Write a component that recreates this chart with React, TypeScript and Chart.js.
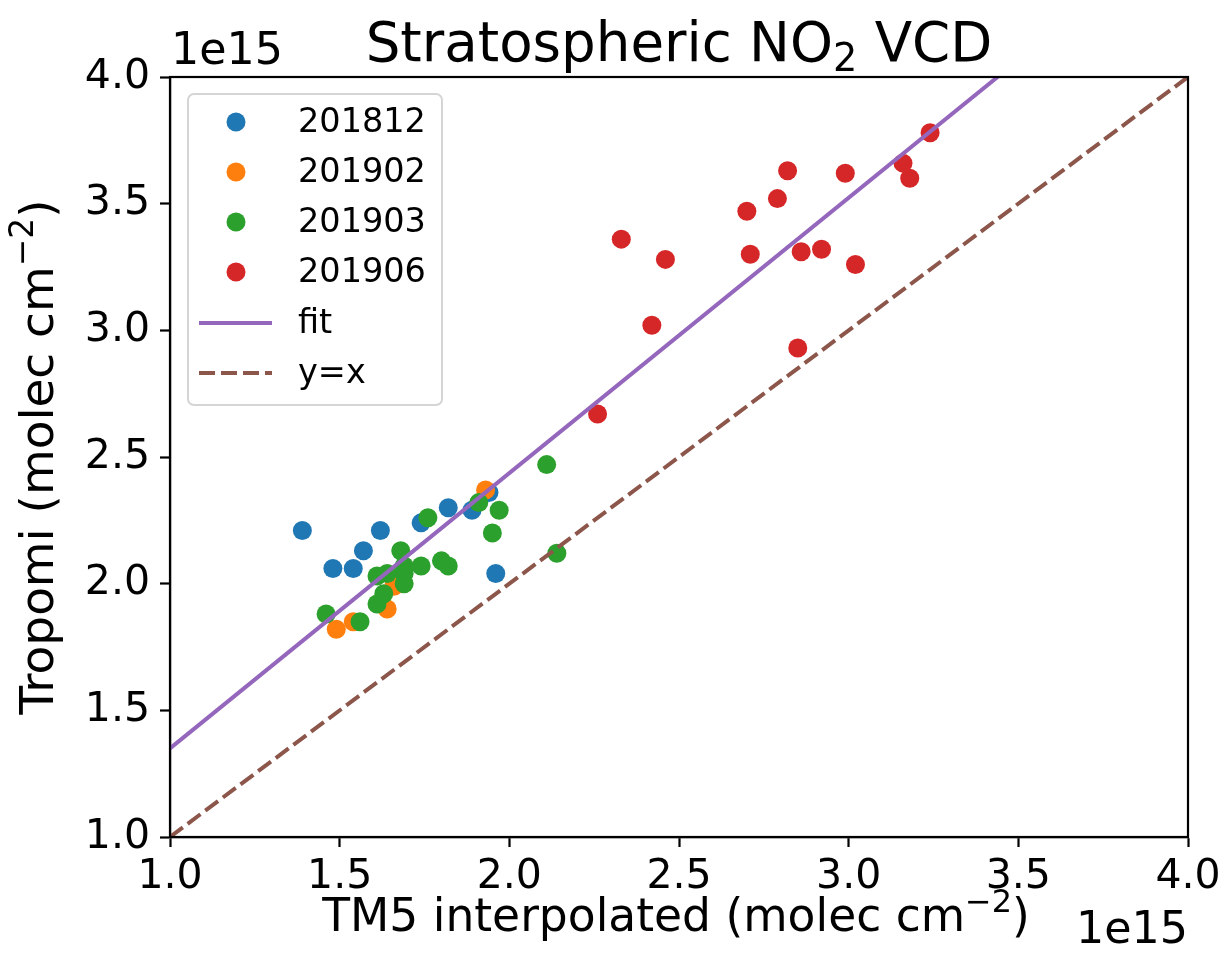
import { useEffect, useRef } from "react";
import { Chart, registerables } from "chart.js";

Chart.register(...registerables);

const W = 1229;
const H = 962;
const FONT = "'DejaVu Sans', sans-serif";

// Values in units of 1e15 molec cm^-2
const seriesLabels = ["201812", "201902", "201903", "201906"];
const seriesColors = ["#1f77b4", "#ff7f0e", "#2ca02c", "#d62728"];

const x201812 = [1.39, 1.48, 1.54, 1.57, 1.62, 1.74, 1.82, 1.89, 1.94, 1.96];
const y201812 = [2.21, 2.06, 2.06, 2.13, 2.21, 2.24, 2.30, 2.29, 2.36, 2.04];

const x201902 = [1.93, 1.49, 1.54, 1.64, 1.66];
const y201902 = [2.37, 1.82, 1.85, 1.90, 1.99];

const x201903 = [1.46, 1.56, 1.61, 1.61, 1.63, 1.64, 1.68, 1.69, 1.69, 1.74, 1.76, 1.80, 1.82, 1.91, 1.97, 1.95, 2.14, 2.11, 1.69];
const y201903 = [1.88, 1.85, 1.92, 2.03, 1.96, 2.04, 2.13, 2.07, 2.00, 2.07, 2.26, 2.09, 2.07, 2.32, 2.29, 2.20, 2.12, 2.47, 2.04];

const x201906 = [2.26, 2.42, 2.33, 2.46, 2.70, 2.71, 2.79, 2.82, 2.86, 2.92, 2.85, 2.99, 3.02, 3.16, 3.18, 3.24];
const y201906 = [2.67, 3.02, 3.36, 3.28, 3.47, 3.30, 3.52, 3.63, 3.31, 3.32, 2.93, 3.62, 3.26, 3.66, 3.60, 3.78];

const fitX = [1.0, 4.0];
const fitY = [1.35, 4.61];
const identX = [1.0, 4.0];
const identY = [1.0, 4.0];

const tickValues = [1.0, 1.5, 2.0, 2.5, 3.0, 3.5, 4.0];

const seriesX = [x201812, x201902, x201903, x201906];
const seriesY = [y201812, y201902, y201903, y201906];

type Part = { t: string; s?: "sup" | "sub" };

function measureRich(ctx: CanvasRenderingContext2D, parts: Part[], size: number) {
  let w = 0;
  for (const p of parts) {
    const fs = p.s ? size * 0.7 : size;
    ctx.font = `${fs}px ${FONT}`;
    w += ctx.measureText(p.t).width;
  }
  return w;
}

function drawRich(
  ctx: CanvasRenderingContext2D,
  parts: Part[],
  x: number,
  y: number,
  size: number,
  align: "left" | "center" | "right"
) {
  const w = measureRich(ctx, parts, size);
  let cx = align === "center" ? x - w / 2 : align === "right" ? x - w : x;
  ctx.textAlign = "left";
  ctx.textBaseline = "alphabetic";
  for (const p of parts) {
    const fs = p.s ? size * 0.7 : size;
    ctx.font = `${fs}px ${FONT}`;
    const dy = p.s === "sup" ? -size * 0.42 : p.s === "sub" ? size * 0.18 : 0;
    ctx.fillText(p.t, cx, y + dy);
    cx += ctx.measureText(p.t).width;
  }
}

function fitSize(ctx: CanvasRenderingContext2D, parts: Part[], target: number) {
  const base = 40;
  return (base * target) / measureRich(ctx, parts, base);
}

const decorPlugin = {
  id: "decor",
  afterDatasetsDraw(chart: any) {
    const ctx: CanvasRenderingContext2D = chart.ctx;
    const a = chart.chartArea;
    ctx.save();
    ctx.strokeStyle = "#000";
    ctx.lineWidth = 2.2;
    ctx.strokeRect(a.left, a.top, a.right - a.left, a.bottom - a.top);
    ctx.restore();
  },
  afterDraw(chart: any) {
    const ctx: CanvasRenderingContext2D = chart.ctx;
    ctx.save();
    ctx.fillStyle = "#000";

    const title: Part[] = [{ t: "Stratospheric NO" }, { t: "2", s: "sub" }, { t: " VCD" }];
    drawRich(ctx, title, 679, 61, fitSize(ctx, title, 627), "center");

    const xl: Part[] = [{ t: "TM5 interpolated (molec cm" }, { t: "\u22122", s: "sup" }, { t: ")" }];
    drawRich(ctx, xl, 676, 931, fitSize(ctx, xl, 708), "center");

    const yl: Part[] = [{ t: "Tropomi (molec cm" }, { t: "\u22122", s: "sup" }, { t: ")" }];
    ctx.save();
    ctx.translate(53, 457);
    ctx.rotate(-Math.PI / 2);
    drawRich(ctx, yl, 0, 0, fitSize(ctx, yl, 515), "center");
    ctx.restore();

    const off: Part[] = [{ t: "1e15" }];
    const offSize = fitSize(ctx, off, 112);
    drawRich(ctx, off, 171, 64, offSize, "left");
    drawRich(ctx, off, 1188, 943, offSize, "right");

    // legend
    const bx = 188, by = 94, bw = 254, bh = 311, r = 6;
    ctx.beginPath();
    ctx.moveTo(bx + r, by);
    ctx.arcTo(bx + bw, by, bx + bw, by + bh, r);
    ctx.arcTo(bx + bw, by + bh, bx, by + bh, r);
    ctx.arcTo(bx, by + bh, bx, by, r);
    ctx.arcTo(bx, by, bx + bw, by, r);
    ctx.closePath();
    ctx.fillStyle = "rgba(255,255,255,0.8)";
    ctx.fill();
    ctx.strokeStyle = "#d5d5d5";
    ctx.lineWidth = 2;
    ctx.stroke();

    const rowY = [122, 172, 222, 272, 323, 373];
    for (let i = 0; i < 4; i++) {
      ctx.beginPath();
      ctx.arc(236, rowY[i], 9.5, 0, Math.PI * 2);
      ctx.fillStyle = seriesColors[i];
      ctx.fill();
    }
    ctx.lineWidth = 4;
    ctx.strokeStyle = "#9467bd";
    ctx.beginPath();
    ctx.moveTo(199, rowY[4]);
    ctx.lineTo(272, rowY[4]);
    ctx.stroke();
    ctx.strokeStyle = "#8c564b";
    ctx.setLineDash([16, 6]);
    ctx.beginPath();
    ctx.moveTo(199, rowY[5]);
    ctx.lineTo(272, rowY[5]);
    ctx.stroke();
    ctx.setLineDash([]);

    const names = [...seriesLabels, "fit", "y=x"];
    ctx.fillStyle = "#000";
    ctx.font = `33.5px ${FONT}`;
    ctx.textAlign = "left";
    ctx.textBaseline = "middle";
    for (let i = 0; i < names.length; i++) {
      ctx.fillText(names[i], 298, rowY[i] + 1);
    }
    ctx.restore();
  },
};

export default function App() {
  const ref = useRef<HTMLCanvasElement | null>(null);

  useEffect(() => {
    const canvas = ref.current;
    if (!canvas) return;

    const scatterSets = seriesLabels.map((label, i) => ({
      type: "scatter" as const,
      label,
      data: seriesX[i].map((x, j) => ({ x, y: seriesY[i][j] })),
      backgroundColor: seriesColors[i],
      borderColor: seriesColors[i],
      borderWidth: 0,
      pointRadius: 9.5,
      pointHoverRadius: 9.5,
      order: 10 - i,
    }));

    const chart = new Chart(canvas, {
      type: "scatter",
      data: {
        datasets: [
          ...scatterSets,
          {
            type: "line" as const,
            label: "fit",
            data: fitX.map((x, j) => ({ x, y: fitY[j] })),
            borderColor: "#9467bd",
            borderWidth: 4,
            pointRadius: 0,
            showLine: true,
            fill: false,
            order: 1,
          },
          {
            type: "line" as const,
            label: "y=x",
            data: identX.map((x, j) => ({ x, y: identY[j] })),
            borderColor: "#8c564b",
            borderWidth: 4,
            borderDash: [16, 6],
            pointRadius: 0,
            showLine: true,
            fill: false,
            order: 0,
          },
        ] as any,
      },
      options: {
        responsive: false,
        animation: false,
        devicePixelRatio: 1,
        layout: { padding: { top: 77, right: 41, left: 0, bottom: 0 } },
        plugins: {
          legend: { display: false },
          title: { display: false },
          tooltip: { enabled: false },
        },
        scales: {
          x: {
            type: "linear",
            min: 1.0,
            max: 4.0,
            afterFit: (s: any) => {
              s.height = 125;
            },
            afterBuildTicks: (s: any) => {
              s.ticks = tickValues.map((v) => ({ value: v }));
            },
            ticks: {
              color: "#000",
              font: { family: "DejaVu Sans", size: 41 },
              padding: 6,
              maxRotation: 0,
              autoSkip: false,
              callback: (v: any) => Number(v).toFixed(1),
            },
            grid: {
              color: "rgba(0,0,0,0)",
              tickColor: "#000",
              tickLength: 10,
              tickWidth: 2.2,
              drawTicks: true,
            },
            border: { display: true, color: "#000", width: 2.2 },
          },
          y: {
            type: "linear",
            min: 1.0,
            max: 4.0,
            afterFit: (s: any) => {
              s.width = 170;
            },
            afterBuildTicks: (s: any) => {
              s.ticks = tickValues.map((v) => ({ value: v }));
            },
            ticks: {
              color: "#000",
              font: { family: "DejaVu Sans", size: 41 },
              padding: 10,
              autoSkip: false,
              callback: (v: any) => Number(v).toFixed(1),
            },
            grid: {
              color: "rgba(0,0,0,0)",
              tickColor: "#000",
              tickLength: 10,
              tickWidth: 2.2,
              drawTicks: true,
            },
            border: { display: true, color: "#000", width: 2.2 },
          },
        },
      } as any,
      plugins: [decorPlugin],
    });

    return () => chart.destroy();
  }, []);

  return (
    <div style={{ position: "fixed", left: 0, top: 0, width: W, height: H, background: "#fff" }}>
      <canvas ref={ref} width={W} height={H} style={{ display: "block", width: W, height: H }} />
    </div>
  );
}
